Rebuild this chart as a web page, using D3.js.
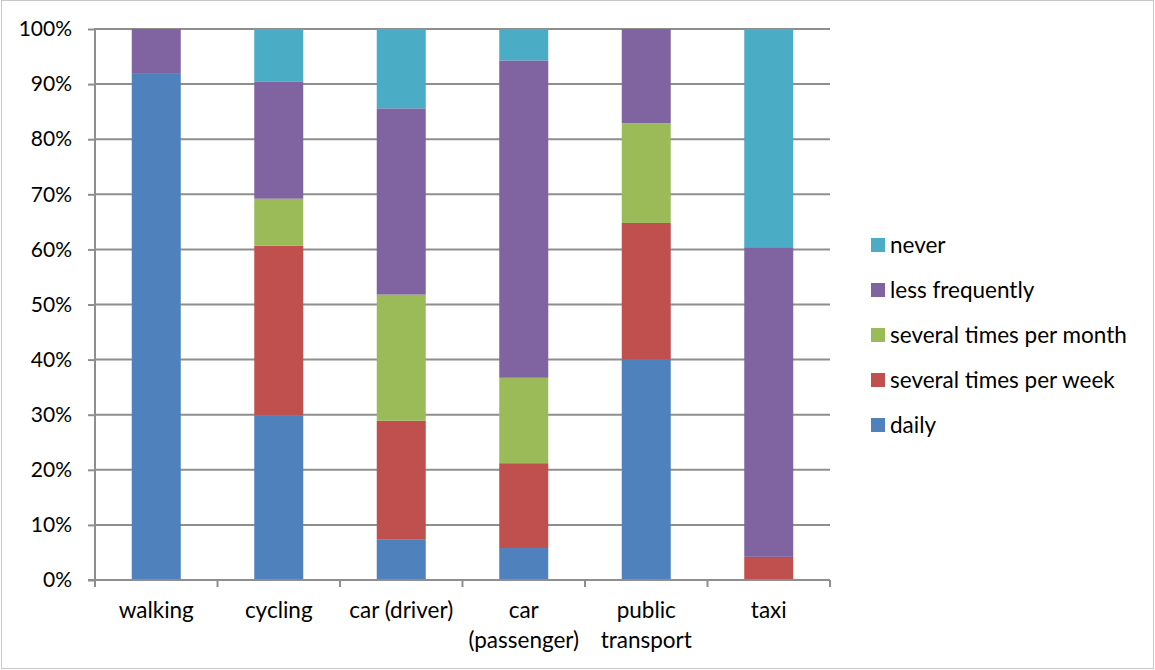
<!DOCTYPE html>
<html>
<head>
<meta charset="utf-8">
<script src="https://cdn.jsdelivr.net/npm/d3@7"></script>
<style>
  html, body { margin: 0; padding: 0; background: #fff; }
  svg { display: block; font-family: Lato, "Open Sans", sans-serif; }
</style>
</head>
<body>
<svg id="chart" width="1155" height="670"></svg>
<script>
// Modes of transport (category labels, "\n" splits a label over two lines)
const categories = ["walking", "cycling", "car (driver)", "car\n(passenger)", "public\ntransport", "taxi"];

// Frequency groups, stacked bottom to top
const seriesNames = ["daily", "several times per week", "several times per month", "less frequently", "never"];

// Share of respondents (%) per mode, one array per frequency group
const daily         = [92.0, 29.9,  7.3,  5.8, 40.1,  0.0];
const perWeek       = [ 0.0, 30.8, 21.6, 15.4, 24.7,  4.2];
const perMonth      = [ 0.0,  8.5, 22.9, 15.5, 18.1,  0.0];
const lessFrequent  = [ 8.0, 21.3, 33.8, 57.6, 17.1, 56.2];
const never         = [ 0.0,  9.5, 14.4,  5.7,  0.0, 39.6];

const yTicks = [0, 10, 20, 30, 40, 50, 60, 70, 80, 90, 100];

const colors = ["#4F81BD", "#C0504D", "#9BBB59", "#8064A2", "#4BACC6"];

const seriesValues = [daily, perWeek, perMonth, lessFrequent, never];
const rows = categories.map((c, i) => {
  const r = { category: c };
  seriesNames.forEach((s, j) => { r[s] = seriesValues[j][i]; });
  return r;
});

const svg = d3.select("#chart");

// Outer chart frame
svg.append("rect")
  .attr("x", 1.5).attr("y", 0.5)
  .attr("width", 1152).attr("height", 668)
  .attr("fill", "#fff")
  .attr("stroke", "#c8c8c8").attr("stroke-width", 1);

const plot = { left: 95, right: 830, top: 29, bottom: 580 };

const x = d3.scaleBand()
  .domain(categories)
  .range([plot.left, plot.right])
  .paddingInner(0.6).paddingOuter(0.3);

const y = d3.scaleLinear().domain([0, 100]).range([plot.bottom, plot.top]);

// Horizontal gridlines
svg.append("g")
  .selectAll("line")
  .data(yTicks.filter(t => t > 0))
  .join("line")
  .attr("x1", plot.left).attr("x2", plot.right)
  .attr("y1", d => y(d)).attr("y2", d => y(d))
  .attr("stroke", "#8e8e8e").attr("stroke-width", 2);

// Stacked bars
const stack = d3.stack().keys(seriesNames)(rows);
svg.append("g")
  .selectAll("g")
  .data(stack)
  .join("g")
  .attr("fill", (d, i) => colors[i])
  .selectAll("rect")
  .data(d => d.filter(s => s[1] - s[0] > 0))
  .join("rect")
  .attr("x", d => x(d.data.category))
  .attr("width", x.bandwidth())
  .attr("y", d => y(d[1]))
  .attr("height", d => y(d[0]) - y(d[1]));

// Y axis
const yAxis = svg.append("g")
  .attr("transform", `translate(${plot.left},0)`)
  .call(d3.axisLeft(y).tickValues(yTicks).tickFormat(d => d + "%").tickSizeOuter(0).tickSize(7).tickPadding(16));
yAxis.select(".domain").remove();
yAxis.selectAll(".tick line").attr("stroke", "#8e8e8e").attr("stroke-width", 2);
yAxis.selectAll(".tick text")
  .attr("font-family", "Lato, sans-serif")
  .attr("font-size", 21)
  .attr("fill", "#000");
svg.append("line")
  .attr("x1", plot.left).attr("x2", plot.left)
  .attr("y1", plot.top - 1).attr("y2", plot.bottom + 7)
  .attr("stroke", "#8e8e8e").attr("stroke-width", 2);

// X axis line and category boundary ticks
svg.append("line")
  .attr("x1", plot.left - 7).attr("x2", plot.right)
  .attr("y1", plot.bottom).attr("y2", plot.bottom)
  .attr("stroke", "#8e8e8e").attr("stroke-width", 2);
const boundaries = d3.range(categories.length + 1).map(i => plot.left + i * (plot.right - plot.left) / categories.length);
svg.append("g")
  .selectAll("line")
  .data(boundaries)
  .join("line")
  .attr("x1", d => d).attr("x2", d => d)
  .attr("y1", plot.bottom).attr("y2", plot.bottom + 7)
  .attr("stroke", "#8e8e8e").attr("stroke-width", 2);

// Category labels
svg.append("g")
  .selectAll("text")
  .data(categories)
  .join("text")
  .attr("x", d => x(d) + x.bandwidth() / 2)
  .attr("y", 618)
  .attr("text-anchor", "middle")
  .attr("font-size", 22.5)
  .attr("fill", "#000")
  .selectAll("tspan")
  .data(d => d.split("\n"))
  .join("tspan")
  .attr("x", function () { return d3.select(this.parentNode).attr("x"); })
  .attr("dy", (d, i) => i === 0 ? 0 : 30)
  .text(d => d);

// Legend, topmost series first
const legendItems = seriesNames.map((s, i) => ({ name: s, color: colors[i] })).reverse();
const legend = svg.append("g")
  .selectAll("g")
  .data(legendItems)
  .join("g")
  .attr("transform", (d, i) => `translate(871,${238 + i * 45})`);
legend.append("rect")
  .attr("width", 14).attr("height", 14)
  .attr("fill", d => d.color);
legend.append("text")
  .attr("x", 19).attr("y", 14.5)
  .attr("font-size", 22.5)
  .attr("fill", "#000")
  .text(d => d.name);
</script>
</body>
</html>
